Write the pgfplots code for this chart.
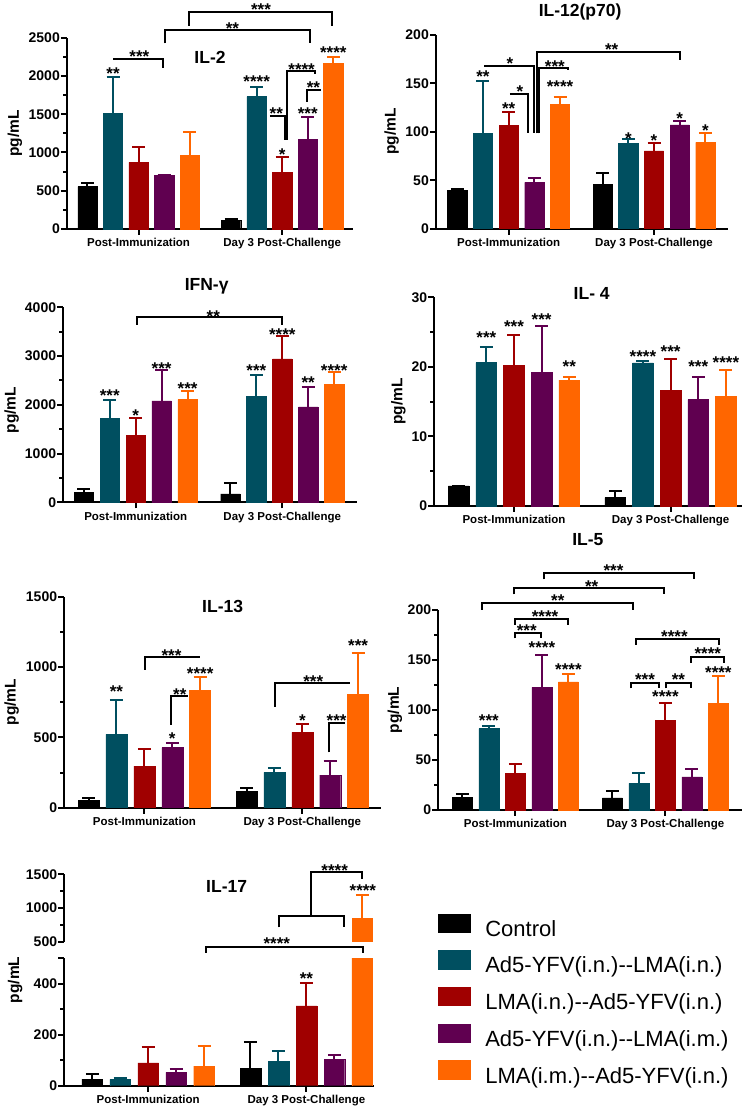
\documentclass[border=0pt]{standalone}
\usepackage{fontspec}
\setmainfont{Liberation Sans}
\usepackage{pgfplots}
\pgfplotsset{compat=1.18}
\definecolor{cK}{HTML}{000000}
\definecolor{cT}{HTML}{004F60}
\definecolor{cR}{HTML}{A00000}
\definecolor{cP}{HTML}{600050}
\definecolor{cO}{HTML}{FF6600}
\newcommand{\tf}{\fontsize{17.5}{17.5}\selectfont\bfseries}
\pgfplotsset{
 panel/.style={
   scale only axis, clip=false,
   axis x line*=bottom, axis y line*=left, axis line style={-, line width=2pt},
   xtick pos=bottom, ytick pos=left,
   tick align=outside, major tick length=6pt, minor tick length=4pt,
   tick style={line width=2pt, black},
   ymin=0, enlargelimits=false,
   yticklabel style={font=\fontsize{14}{14}\selectfont\bfseries, inner xsep=1pt},
   xticklabel style={font=\fontsize{11.5}{11.5}\selectfont\bfseries},
   /pgf/number format/assume math mode=true,
   /pgf/number format/1000 sep={},
   scaled y ticks=false,
   ylabel={pg/mL},
   every axis y label/.style={rotate=90, anchor=center, font=\fontsize{15.5}{15.5}\selectfont\bfseries},
   xticklabels={Post-Immunization, Day 3 Post-Challenge},
 },
 sqlegend/.style={legend image code/.code={\fill[##1] (0pt,-1.3pt) rectangle (32.7pt,17pt);}},
 bb/.style={ybar, bar shift=0pt, fill=#1, draw=#1, line width=0.4pt, sqlegend,
   error bars/.cd, y dir=plus, y explicit,
   error bar style={line width=2pt, draw=#1, solid},
   error mark options={rotate=90, mark size=6.5pt, line width=2pt, draw=#1}},
}
\tikzset{
 br/.style={line width=2pt, black},
 st/.style={font=\fontsize{17}{17}\selectfont\bfseries, inner sep=0pt, yshift=-3.7pt},
}
\begin{document}
\begin{tikzpicture}
\path[use as bounding box] (0pt,0pt) rectangle (750pt,1111pt);

% ---------------- IL-2
\begin{axis}[panel, at={(67pt,882pt)}, anchor=south west, width=286pt, height=191.3pt,
 xmin=-0.8, xmax=10.39, ymax=2500, ytick={0,500,...,2500}, minor y tick num=1,
 xtick={2,7.62}, bar width=19.3pt, ylabel style={at={(axis description cs:-0.182,0.5)}}]
\addplot[bb=cK] coordinates {(0,553) +- (0,52) (5.62,109) +- (0,26)};
\addplot[bb=cT] coordinates {(1,1507) +- (0,483) (6.62,1729) +- (0,122)};
\addplot[bb=cR] coordinates {(2,871) +- (0,205) (7.62,740) +- (0,205)};
\addplot[bb=cP] coordinates {(3,705) +- (0,5) (8.62,1171) +- (0,288)};
\addplot[bb=cO] coordinates {(4,962) +- (0,305) (9.62,2169) +- (0,83)};
\node[font=\tf] at (axis description cs:0.5,0.899) {IL-2};
\node[st] at (1,2078) {**};
\node[st] at (6.62,1970) {****};
\node[st] at (7.62,1023) {*};
\node[st] at (8.62,1555) {***};
\node[st] at (9.62,2349) {****};
\draw[br] (1.01,2218) -- (2.97,2218) -- (2.97,2100);
\node[st] at (2.03,2296) {***};
\draw[br] (3.03,2427) -- (3.03,2601) -- (8.71,2601) -- (8.71,2427);
\node[st] at (5.67,2660) {**};
\draw[br] (3.98,2653) -- (3.98,2832) -- (9.58,2832) -- (9.58,2653);
\node[st] at (6.79,2910) {***};
\draw[br] (7.14,1481) -- (7.73,1481) -- (7.73,1163);
\node[st] at (7.39,1555) {**};
\draw[br] (7.82,1163) -- (7.82,2065) -- (8.9,2065) -- (8.9,2026);
\node[st] at (8.38,2135) {****};
\draw[br] (8.58,1664) -- (8.58,1817) -- (9.13,1817);
\node[st] at (8.84,1890) {**};
\end{axis}

% ---------------- IL-12(p70)
\begin{axis}[panel, at={(436pt,882.3pt)}, anchor=south west, width=291.7pt, height=194pt,
 xmin=-0.83, xmax=10.53, ymax=200, ytick={0,50,...,200},
 xtick={2,7.66}, bar width=19.3pt, ylabel style={at={(axis description cs:-0.152,0.5)}}]
\addplot[bb=cK] coordinates {(0,39.2) +- (0,2) (5.66,45.7) +- (0,11.7)};
\addplot[bb=cT] coordinates {(1,98.3) +- (0,53.6) (6.66,88) +- (0,4.8)};
\addplot[bb=cR] coordinates {(2,106.5) +- (0,13.8) (7.66,80.1) +- (0,8.6)};
\addplot[bb=cP] coordinates {(3,47.8) +- (0,4.8) (8.66,106.9) +- (0,4.4)};
\addplot[bb=cO] coordinates {(4,128.2) +- (0,7.5) (9.66,89) +- (0,10)};
\node[font=\tf] at (axis description cs:0.494,1.117) {IL-12(p70)};
\node[st] at (1,160.1) {**};
\node[st] at (2,127.5) {**};
\node[st] at (4,149.8) {****};
\node[st] at (6.66,96.6) {*};
\node[st] at (7.66,94.8) {*};
\node[st] at (8.66,117.2) {*};
\node[st] at (9.66,104.5) {*};
\draw[br] (2.05,138.8) -- (2.77,138.8) -- (2.77,98.3);
\node[st] at (2.44,144.7) {*};
\draw[br] (1.05,168) -- (3.0,168) -- (3.0,98.3);
\node[st] at (2.05,173.9) {*};
\draw[br] (3.09,98.3) -- (3.09,182.5) -- (8.69,182.5) -- (8.69,173.9);
\node[st] at (6.01,188.3) {**};
\draw[br] (3.18,98.3) -- (3.18,166) -- (4.3,166) -- (4.3,163.6);
\node[st] at (3.8,171.1) {***};
\end{axis}

% ---------------- IFN-gamma
\begin{axis}[panel, at={(63.3pt,608.7pt)}, anchor=south west, width=293.7pt, height=195pt,
 xmin=-0.79, xmax=10.53, ymax=4000, ytick={0,1000,...,4000}, minor y tick num=1,
 xtick={2,7.65}, bar width=19.3pt, ylabel style={at={(axis description cs:-0.176,0.473)}}]
\addplot[bb=cK] coordinates {(0,198) +- (0,76) (5.65,171) +- (0,232)};
\addplot[bb=cT] coordinates {(1,1716) +- (0,383) (6.65,2168) +- (0,444)};
\addplot[bb=cR] coordinates {(2,1368) +- (0,355) (7.65,2940) +- (0,472)};
\addplot[bb=cP] coordinates {(3,2079) +- (0,636) (8.65,1956) +- (0,417)};
\addplot[bb=cO] coordinates {(4,2106) +- (0,178) (9.65,2421) +- (0,246)};
\node[font=\tf] at (axis description cs:0.488,1.106) {IFN-γ};
\node[st] at (1,2270) {***};
\node[st] at (2,1860) {*};
\node[st] at (3,2817) {***};
\node[st] at (4,2407) {***};
\node[st] at (6.65,2769) {***};
\node[st] at (7.65,3522) {****};
\node[st] at (8.65,2523) {**};
\node[st] at (9.65,2783) {****};
\draw[br] (2.04,3638) -- (2.04,3795) -- (7.65,3795) -- (7.65,3638);
\node[st] at (4.99,3891) {**};
\end{axis}

% ---------------- IL-4
\begin{axis}[panel, at={(434.3pt,605pt)}, anchor=south west, width=307.4pt, height=208.7pt,
 xmin=-0.88, xmax=10.23, ymax=30, ytick={0,10,20,30}, minor y tick num=1,
 xtick={2,7.66}, bar width=20.7pt, ylabel style={at={(axis description cs:-0.117,0.5)}}]
\addplot[bb=cK] coordinates {(0,2.88) +- (0,0.05) (5.66,1.2) +- (0,0.96)};
\addplot[bb=cT] coordinates {(1,20.6) +- (0,2.3) (6.66,20.56) +- (0,0.28)};
\addplot[bb=cR] coordinates {(2,20.2) +- (0,4.4) (7.66,16.6) +- (0,4.6)};
\addplot[bb=cP] coordinates {(3,19.2) +- (0,6.7) (8.66,15.3) +- (0,3.2)};
\addplot[bb=cO] coordinates {(4,18.1) +- (0,0.4) (9.66,15.8) +- (0,3.8)};
\node[font=\tf] at (axis description cs:0.512,1.019) {IL- 4};
\node[st] at (1,24.7) {***};
\node[st] at (2,26.35) {***};
\node[st] at (3,27.3) {***};
\node[st] at (4,20.5) {**};
\node[st] at (6.66,21.95) {****};
\node[st] at (7.66,22.76) {***};
\node[st] at (8.66,20.6) {***};
\node[st] at (9.66,21.2) {****};
\end{axis}

% ---------------- IL-13
\begin{axis}[panel, at={(64.3pt,303.3pt)}, anchor=south west, width=316.7pt, height=211pt,
 xmin=-0.87, xmax=10.48, ymax=1500, ytick={0,500,1000,1500}, minor y tick num=1,
 xtick={2,7.66}, bar width=21pt, ylabel style={at={(axis description cs:-0.166,0.5)}}]
\addplot[bb=cK] coordinates {(0,50) +- (0,16) (5.66,114) +- (0,28)};
\addplot[bb=cT] coordinates {(1,521) +- (0,247) (6.66,251) +- (0,29)};
\addplot[bb=cR] coordinates {(2,296) +- (0,119) (7.66,536) +- (0,61)};
\addplot[bb=cP] coordinates {(3,427) +- (0,35) (8.66,232) +- (0,102)};
\addplot[bb=cO] coordinates {(4,832) +- (0,99) (9.66,808) +- (0,292)};
\node[font=\tf] at (axis description cs:0.5,0.953) {IL-13};
\node[st] at (1,848) {**};
\node[st] at (3,517) {*};
\node[st] at (4,979) {****};
\node[st] at (7.66,647) {*};
\node[st] at (9.66,1180) {***};
\draw[br] (2.03,979) -- (2.03,1069) -- (3.99,1069);
\node[st] at (2.97,1109) {***};
\draw[br] (2.97,588) -- (2.97,794) -- (3.57,794);
\node[st] at (3.27,832) {**};
\draw[br] (6.67,718) -- (6.67,884) -- (9.37,884);
\node[st] at (8.05,924) {***};
\draw[br] (8.63,393) -- (8.63,604) -- (9.19,604);
\node[st] at (8.89,647) {***};
\end{axis}

% ---------------- IL-5
\begin{axis}[panel, at={(438.3pt,301pt)}, anchor=south west, width=303.4pt, height=200pt,
 xmin=-0.91, xmax=10.54, ymax=200, ytick={0,50,...,200}, minor y tick num=1,
 xtick={2,7.66}, bar width=20pt, ylabel style={at={(axis description cs:-0.143,0.5)}}]
\addplot[bb=cK] coordinates {(0,12.3) +- (0,3.7) (5.66,12) +- (0,7)};
\addplot[bb=cT] coordinates {(1,81.3) +- (0,3) (6.66,26.7) +- (0,10.6)};
\addplot[bb=cR] coordinates {(2,36.7) +- (0,9.3) (7.66,89.3) +- (0,17.7)};
\addplot[bb=cP] coordinates {(3,122.7) +- (0,32) (8.66,33) +- (0,8.3)};
\addplot[bb=cO] coordinates {(4,128) +- (0,8) (9.66,106.3) +- (0,28)};
\node[font=\tf] at (axis description cs:0.493,1.35) {IL-5};
\node[st] at (1,93.3) {***};
\node[st] at (3,166) {****};
\node[st] at (4,144) {****};
\node[st] at (7.66,116.7) {****};
\node[st] at (9.66,141) {****};
\draw[br] (3.08,230.7) -- (3.08,236.7) -- (8.74,236.7) -- (8.74,230.7);
\node[st] at (5.7,242.7) {***};
\draw[br] (1.93,215.7) -- (1.93,221.7) -- (7.59,221.7) -- (7.59,215.7);
\node[st] at (4.88,227.3) {**};
\draw[br] (0.75,200) -- (0.75,206.7) -- (6.45,206.7) -- (6.45,200);
\node[st] at (3.6,212.7) {**};
\draw[br] (1.99,185) -- (1.99,191) -- (4,191) -- (4,185);
\node[st] at (3.12,196.7) {****};
\draw[br] (1.97,171.7) -- (1.97,177.3) -- (2.96,177.3) -- (2.96,171.7);
\node[st] at (2.43,182.7) {***};
\draw[br] (6.55,165) -- (6.55,171) -- (9.7,171) -- (9.7,165);
\node[st] at (8.0,176.7) {****};
\draw[br] (8.62,147.3) -- (8.62,152.7) -- (9.88,152.7) -- (9.88,147.3);
\node[st] at (9.26,160) {****};
\draw[br] (6.37,121.7) -- (6.37,127.3) -- (7.4,127.3) -- (7.4,121.7);
\node[st] at (6.89,134) {***};
\draw[br] (7.67,121.7) -- (7.67,127.3) -- (8.63,127.3) -- (8.63,121.7);
\node[st] at (8.15,134) {**};
\end{axis}

% ---------------- IL-17 lower
\begin{axis}[panel, clip=true, clip mode=individual, at={(64.3pt,25.3pt)}, anchor=south west,
 width=309.2pt, height=127.4pt,
 xmin=-1, xmax=10.06, ymax=500, ytick={0,200,400,500}, yticklabels={0,200,400,{}},
 minor ytick={100,300}, xtick={2,7.66}, bar width=20.7pt,
 ylabel style={at={(axis description cs:-0.159,0.83)}},
 legend cell align=left,
 legend style={at={(axis description cs:1.207,1.351)}, anchor=north west, draw=none, fill=none,
   inner sep=0pt, outer sep=0pt, column sep=14.7pt, row sep=9pt,
   font=\fontsize{22}{22}\selectfont,
   nodes={inner sep=0pt, text height=16pt, text depth=5pt}}]
\addplot[bb=cK] coordinates {(0,26) +- (0,18.5) (5.66,68) +- (0,102)};
\addlegendentry{Control}
\addplot[bb=cT] coordinates {(1,25) +- (0,6) (6.66,96) +- (0,41)};
\addlegendentry{Ad5-YFV(i.n.)-{}-LMA(i.n.)}
\addplot[bb=cR] coordinates {(2,90) +- (0,63) (7.66,313) +- (0,89)};
\addlegendentry{LMA(i.n.)-{}-Ad5-YFV(i.n.)}
\addplot[bb=cP] coordinates {(3,52) +- (0,12) (8.66,103) +- (0,17)};
\addlegendentry{Ad5-YFV(i.n.)-{}-LMA(i.m.)}
\addplot[bb=cO] coordinates {(4,77) +- (0,77) (9.66,851) +- (0,337)};
\addlegendentry{LMA(i.m.)-{}-Ad5-YFV(i.n.)}
\node[st] at (7.66,434.6) {**};
\end{axis}

% ---------------- IL-17 upper
\begin{axis}[panel, clip=true, clip mode=individual, at={(64.3pt,169.3pt)}, anchor=south west,
 width=309.2pt, height=67.4pt, axis x line=none,
 xmin=-1, xmax=10.06, ymin=500, ymax=1500, ytick={500,1000,1500}, minor y tick num=1,
 xtick=\empty, ylabel={}, bar width=20.7pt]
\addplot[bb=cO] coordinates {(9.66,851) +- (0,337)};
\node[font=\tf] at (axis description cs:0.525,0.816) {IL-17};
\draw[br] (4.08,336.8) -- (4.08,425.8) -- (9.7,425.8) -- (9.7,336.8);
\node[st] at (6.6,525) {****};
\draw[br] (6.67,713) -- (6.67,881) -- (9.0,881) -- (9.0,713);
\draw[br] (7.83,881) -- (7.83,1530) -- (9.66,1530) -- (9.66,1426);
\node[st] at (8.67,1604) {****};
\node[st] at (9.68,1317) {****};
\end{axis}
\end{tikzpicture}
\end{document}
